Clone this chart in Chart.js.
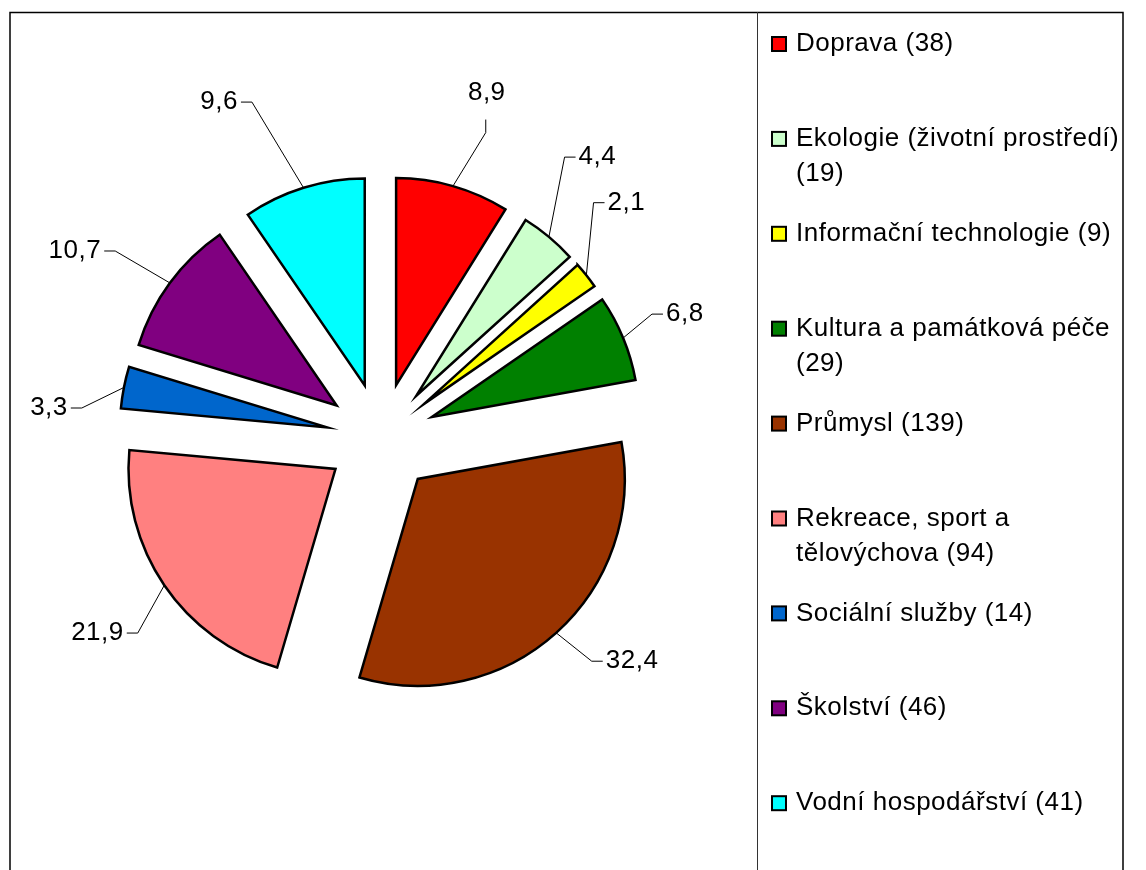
<!DOCTYPE html>
<html><head><meta charset="utf-8">
<script src="https://cdn.jsdelivr.net/npm/chart.js@4.4.1/dist/chart.umd.min.js"></script>
<style>html,body{margin:0;padding:0;background:#fff;}#wrap{width:1146px;height:870px;position:relative;}</style>
</head><body><div id="wrap"><canvas id="c" width="1146" height="870"></canvas></div>
<script>
// ---- data ----
const categories = ['Doprava', 'Ekologie (životní prostředí)', 'Informační technologie', 'Kultura a památková péče', 'Průmysl', 'Rekreace, sport a tělovýchova', 'Sociální služby', 'Školství', 'Vodní hospodářství'];
const counts = [38, 19, 9, 29, 139, 94, 14, 46, 41];
const colors = ['#FF0000', '#CCFFCC', '#FFFF00', '#008000', '#993300', '#FF8080', '#0066CC', '#800080', '#00FFFF'];

// ---- label layout (style) ----
const leaderDist = [268, 281, 263, 243, 252, 257, 246, 270, 305];
const leaderTurn = [3.6, -8.0, -11.5, -2.6, -1.7, -5.5, -6.6, -1.4, -4.5];

const FONT = '"Liberation Sans", Arial, sans-serif';
const RADIUS = 207;
const EXPLODE = 55;

// explode each slice outward along its mid angle (pure translation)
const explode = {
  id: 'explode',
  afterDatasetUpdate(chart, args) {
    args.meta.data.forEach(el => {
      const mid = (el.startAngle + el.endAngle) / 2;
      el.x += Math.cos(mid) * EXPLODE;
      el.y += Math.sin(mid) * EXPLODE;
    });
  },
  beforeDatasetsDraw(chart) {
    chart.ctx.miterLimit = 25;
  }
};

const frame = {
  id: 'frame',
  beforeDraw(chart) {
    const ctx = chart.ctx;
    ctx.save();
    ctx.strokeStyle = '#000';
    ctx.lineWidth = 1.5;
    ctx.beginPath();
    ctx.moveTo(10, 870); ctx.lineTo(10, 12.5); ctx.lineTo(1123, 12.5); ctx.lineTo(1123, 870);
    ctx.stroke();
    ctx.lineWidth = 1;
    ctx.strokeStyle = '#333';
    ctx.beginPath();
    ctx.moveTo(757.5, 12); ctx.lineTo(757.5, 870);
    ctx.stroke();
    ctx.restore();
  }
};

const pieLabels = {
  id: 'pieLabels',
  afterDatasetsDraw(chart) {
    const ctx = chart.ctx;
    const meta = chart.getDatasetMeta(0);
    const total = counts.reduce((a, b) => a + b, 0);
    ctx.save();
    ctx.font = '26px ' + FONT;
    ctx.letterSpacing = '0.5px';
    ctx.fillStyle = '#000';
    ctx.strokeStyle = '#000';
    ctx.lineWidth = 1;
    meta.data.forEach((el, i) => {
      const mid = (el.startAngle + el.endAngle) / 2;
      const ox = el.x;
      const oy = el.y;
      const ax = ox + Math.cos(mid) * RADIUS;
      const ay = oy + Math.sin(mid) * RADIUS;
      const ea = mid + leaderTurn[i] * Math.PI / 180;
      const ex = ox + Math.cos(ea) * leaderDist[i];
      const ey = oy + Math.sin(ea) * leaderDist[i];
      const txt = (counts[i] / total * 100).toFixed(1).replace('.', ',');
      let fromTop = (ea + Math.PI / 2) * 180 / Math.PI;
      fromTop = ((fromTop + 540) % 360) - 180;
      ctx.beginPath();
      ctx.moveTo(ax, ay);
      ctx.lineTo(ex, ey);
      if (Math.abs(fromTop) < 20) {
        ctx.lineTo(ex, ey - 13);
        ctx.stroke();
        ctx.textAlign = 'center';
        ctx.textBaseline = 'middle';
        ctx.fillText(txt, ex + 1, ey - 40);
      } else if (fromTop > 0) {
        ctx.lineTo(ex + 11, ey);
        ctx.stroke();
        ctx.textAlign = 'left';
        ctx.textBaseline = 'middle';
        ctx.fillText(txt, ex + 14, ey);
      } else {
        ctx.lineTo(ex - 11, ey);
        ctx.stroke();
        ctx.textAlign = 'right';
        ctx.textBaseline = 'middle';
        ctx.fillText(txt, ex - 14, ey);
      }
    });
    ctx.restore();
  }
};

const sideLegend = {
  id: 'sideLegend',
  afterDraw(chart) {
    const ctx = chart.ctx;
    ctx.save();
    ctx.font = '26px ' + FONT;
    ctx.letterSpacing = '0.5px';
    ctx.textAlign = 'left';
    ctx.textBaseline = 'middle';
    const maxW = 330;
    categories.forEach((cat, i) => {
      const y0 = 44 + i * 94.9;
      ctx.fillStyle = colors[i];
      ctx.fillRect(772, y0 - 7, 14, 14);
      ctx.strokeStyle = '#000';
      ctx.lineWidth = 2;
      ctx.strokeRect(772, y0 - 7, 14, 14);
      const words = (cat + ' (' + counts[i] + ')').split(' ');
      const lines = [];
      let cur = '';
      words.forEach(w => {
        const t = cur ? cur + ' ' + w : w;
        if (cur && ctx.measureText(t).width > maxW) { lines.push(cur); cur = w; }
        else cur = t;
      });
      lines.push(cur);
      ctx.fillStyle = '#000';
      lines.forEach((ln, k) => ctx.fillText(ln, 796, y0 + k * 35));
    });
    ctx.restore();
  }
};

new Chart(document.getElementById('c'), {
  type: 'pie',
  data: {
    labels: categories,
    datasets: [{
      data: counts,
      backgroundColor: colors,
      borderColor: '#000',
      borderWidth: 2.5,
      borderJoinStyle: 'miter'
    }]
  },
  options: {
    responsive: false,
    devicePixelRatio: 1,
    animation: false,
    radius: RADIUS,
    layout: { padding: { left: 0, right: 384, top: 6, bottom: 0 } },
    plugins: { legend: { display: false }, tooltip: { enabled: false } },
    events: []
  },
  plugins: [explode, frame, pieLabels, sideLegend]
});
</script>
</body></html>
